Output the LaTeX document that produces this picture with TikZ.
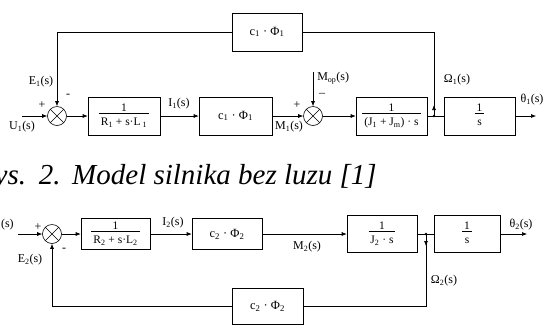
\documentclass[tikz,border=0pt]{standalone}
\usepackage{fontspec}
\setmainfont{Liberation Serif}
\usetikzlibrary{arrows.meta}
\newcommand\myfrac[2]{\begin{tabular}{@{\,}c@{\,}}#1\\[-2pt]\hline\rule{0pt}{12pt}#2\end{tabular}}
\newcommand\sub[1]{\textsubscript{#1}}
\begin{document}
\begin{tikzpicture}[x=1pt,y=-1pt,
  line width=0.6pt,
  arr/.style={-{Latex[length=5pt,width=4pt]}},
  blk/.style={draw,rectangle,inner sep=1pt,font=\fontsize{11.5}{12}\selectfont},
  cblk/.style={blk,font=\fontsize{12.5}{13}\selectfont},
  lbl/.style={inner sep=0pt,font=\fontsize{12}{13}\selectfont},
  sumnode/.style={circle,draw,minimum size=19pt,inner sep=0pt,
    path picture={\draw (path picture bounding box.north west)--(path picture bounding box.south east)
                        (path picture bounding box.north east)--(path picture bounding box.south west);}},
  dot/.style={circle,fill,inner sep=0pt,minimum size=2.6pt}]
\fill[white] (0,0) rectangle (545,325);
\useasboundingbox (0,0) rectangle (545,325);
% ---------- top diagram ----------
\coordinate (u1) at (22,116);
\node[sumnode] (s1) at (57,116) {};
\node[blk,minimum width=72pt,minimum height=38pt] (b1) at (124,116) {\myfrac{1}{R\sub{1} + s·L\sub{ 1}}};
\node[cblk,minimum width=73pt,minimum height=38pt] (b2) at (235.5,116) {c\sub{1} · Φ\sub{1}};
\node[sumnode] (s2) at (313,116) {};
\node[blk,minimum width=71pt,minimum height=38pt] (b3) at (391.5,116) {\myfrac{1}{(J\sub{1} + J\sub{m}) · s}};
\node[blk,minimum width=71pt,minimum height=38pt] (b4) at (479.5,116) {\myfrac{1}{s}};
\node[cblk,minimum width=70pt,minimum height=38pt] (f1) at (267,32) {c\sub{1} · Φ\sub{1}};
\coordinate (j1) at (434,116);
\coordinate (o1) at (536,116);
\coordinate (mop) at (313,72);
\coordinate (fl1) at (57,32);
\coordinate (fr1) at (434,32);
\draw[arr] (u1) -- (s1);
\draw[arr] (s1) -- (b1);
\draw[arr] (b1) -- (b2);
\draw[arr] (b2) -- (s2);
\draw[arr] (s2) -- (b3);
\draw (b3) -- (b4);
\draw[arr] (b4) -- (o1);
\draw[arr] (mop) -- (s2);
\draw (j1) -- (fr1) -- (f1);
\draw[arr] (j1) -- ++(0,-11);
\draw[arr] (f1) -- (fl1) -- (s1);
\node[dot] (d1) at (j1) {};
\node[lbl] (pl1) at (42,105) {+};
\node[lbl] (mi1) at (68,96) {-};
\node[lbl] (e1) at (41,82) {E\sub{1}(s)};
\node[lbl] (ul1) at (22,127) {U\sub{1}(s)};
\node[lbl] (i1) at (179,104) {I\sub{1}(s)};
\node[lbl] (m1) at (289,127) {M\sub{1}(s)};
\node[lbl,anchor=west] (mopl) at (317,78) {M\sub{op}(s)};
\node[lbl] (pl2) at (297,105) {+};
\node[lbl] (mi2) at (322,95) {–};
\node[lbl] (om1) at (457,80) {Ω\sub{1}(s)};
\node[lbl] (th1) at (532,100) {θ\sub{1}(s)};
% ---------- caption ----------
\node[anchor=base east,inner sep=0pt,font=\fontsize{29}{31}\selectfont\itshape] (cap) at (377,184) {Rys.\hspace{3pt} 2.\hspace{2pt} Model silnika bez luzu [1]};
% ---------- bottom diagram ----------
\coordinate (u2) at (18,234);
\node[sumnode] (s3) at (52,234) {};
\node[blk,minimum width=69pt,minimum height=31pt] (c1) at (115.5,234) {\myfrac{1}{R\sub{2} + s·L\sub{2}}};
\node[cblk,minimum width=70pt,minimum height=31pt] (c2) at (227,234) {c\sub{2} · Φ\sub{2}};
\node[blk,minimum width=70pt,minimum height=37pt] (c3) at (382,234) {\myfrac{1}{J\sub{2} · s}};
\node[blk,minimum width=66pt,minimum height=37pt] (c4) at (467,234) {\myfrac{1}{s}};
\node[cblk,minimum width=71pt,minimum height=36pt] (f2) at (267.5,306) {c\sub{2} · Φ\sub{2}};
\coordinate (j2) at (426,234);
\coordinate (o2) at (527,234);
\coordinate (fl2) at (52,306);
\coordinate (fr2) at (426,306);
\draw[arr] (u2) -- (s3);
\draw[arr] (s3) -- (c1);
\draw[arr] (c1) -- (c2);
\draw[arr] (c2) -- (c3);
\draw (c3) -- (c4);
\draw[arr] (c4) -- (o2);
\draw (j2) -- (fr2) -- (f2);
\draw[arr] (j2) -- ++(0,12);
\draw[arr] (f2) -- (fl2) -- (s3);
\node[dot] (d2) at (j2) {};
\node[lbl,anchor=east] (ul2) at (14,225) {U\sub{2}(s)};
\node[lbl] (pl3) at (38,227) {+};
\node[lbl] (mi3) at (64,250) {-};
\node[lbl] (e2) at (30,260) {E\sub{2}(s)};
\node[lbl] (i2) at (173,223) {I\sub{2}(s)};
\node[lbl] (m2) at (307,247) {M\sub{2}(s)};
\node[lbl] (om2) at (444,281) {Ω\sub{2}(s)};
\node[lbl] (th2) at (521,225) {θ\sub{2}(s)};
\end{tikzpicture}
\end{document}
